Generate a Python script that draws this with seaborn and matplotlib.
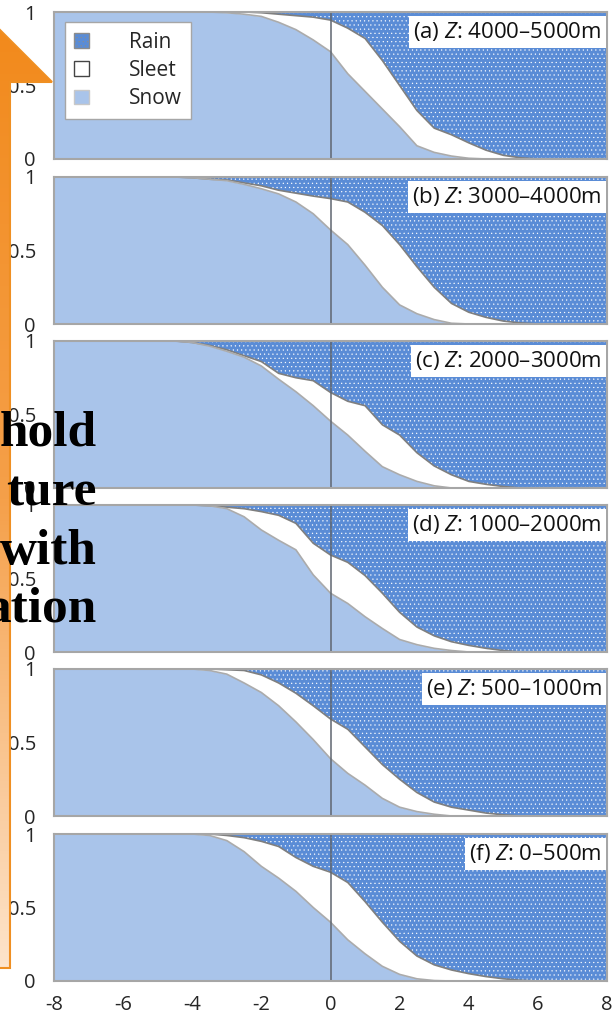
import numpy as np
import matplotlib
matplotlib.use("Agg")
import matplotlib.pyplot as plt
import seaborn as sns
from matplotlib.patches import Patch, Polygon

# air temperature bins (deg C)
temps = [-8, -7.5, -7, -6.5, -6, -5.5, -5, -4.5, -4, -3.5, -3,
         -2.5, -2, -1.5, -1, -0.5, 0, 0.5, 1, 1.5, 2, 2.5,
         3, 3.5, 4, 4.5, 5, 5.5, 6, 6.5, 7, 7.5, 8]

# snow fraction and snow+sleet fraction for each elevation band
snow_a = [1, 1, 1, 1, 1, 1, 1, 1, 1, 1, 0.995,
          0.985, 0.97, 0.93, 0.88, 0.81, 0.73, 0.58, 0.46, 0.34, 0.22, 0.09,
          0.045, 0.02, 0.005, 0, 0, 0, 0, 0, 0, 0, 0]
upper_a = [1, 1, 1, 1, 1, 1, 1, 1, 1, 1, 1,
           1, 0.995, 0.985, 0.975, 0.965, 0.945, 0.89, 0.82, 0.67, 0.50, 0.33,
           0.21, 0.165, 0.11, 0.06, 0.025, 0.008, 0, 0, 0, 0, 0]

snow_b = [1, 1, 1, 1, 1, 1, 1, 1, 0.995, 0.985, 0.975,
          0.95, 0.92, 0.885, 0.83, 0.75, 0.64, 0.54, 0.40, 0.25, 0.13, 0.07,
          0.03, 0.005, 0, 0, 0, 0, 0, 0, 0, 0, 0]
upper_b = [1, 1, 1, 1, 1, 1, 1, 1, 0.995, 0.985, 0.98,
           0.96, 0.94, 0.91, 0.89, 0.87, 0.853, 0.83, 0.76, 0.67, 0.54, 0.39,
           0.25, 0.14, 0.08, 0.045, 0.02, 0.007, 0, 0, 0, 0, 0]

snow_c = [1, 1, 1, 1, 1, 1, 1, 1, 0.99, 0.965, 0.93,
          0.89, 0.83, 0.74, 0.655, 0.56, 0.455, 0.36, 0.25, 0.145, 0.09, 0.045,
          0.015, 0, 0, 0, 0, 0, 0, 0, 0, 0, 0]
upper_c = [1, 1, 1, 1, 1, 1, 1, 1, 0.99, 0.97, 0.94,
           0.90, 0.86, 0.78, 0.75, 0.73, 0.65, 0.59, 0.56, 0.43, 0.36, 0.24,
           0.15, 0.09, 0.045, 0.025, 0.01, 0, 0, 0, 0, 0, 0]

snow_d = [1, 1, 1, 1, 1, 1, 1, 1, 1, 0.995, 0.975,
          0.92, 0.83, 0.76, 0.695, 0.525, 0.40, 0.33, 0.24, 0.16, 0.085, 0.05,
          0.025, 0.01, 0, 0, 0, 0, 0, 0, 0, 0, 0]
upper_d = [1, 1, 1, 1, 1, 1, 1, 1, 1, 0.995, 0.985,
           0.975, 0.955, 0.93, 0.875, 0.74, 0.66, 0.61, 0.52, 0.40, 0.27, 0.17,
           0.11, 0.07, 0.045, 0.025, 0.01, 0, 0, 0, 0, 0, 0]

snow_e = [1, 1, 1, 1, 1, 1, 1, 1, 1, 0.99, 0.965,
          0.905, 0.84, 0.75, 0.64, 0.52, 0.39, 0.29, 0.21, 0.12, 0.06, 0.03,
          0.012, 0, 0, 0, 0, 0, 0, 0, 0, 0, 0]
upper_e = [1, 1, 1, 1, 1, 1, 1, 1, 1, 1, 0.995,
           0.99, 0.96, 0.905, 0.835, 0.75, 0.66, 0.59, 0.47, 0.35, 0.25, 0.16,
           0.095, 0.06, 0.04, 0.02, 0.008, 0, 0, 0, 0, 0, 0]

snow_f = [1, 1, 1, 1, 1, 1, 1, 1, 1, 0.99, 0.955,
          0.88, 0.78, 0.70, 0.61, 0.50, 0.40, 0.28, 0.185, 0.10, 0.045, 0.015,
          0.003, 0, 0, 0, 0, 0, 0, 0, 0, 0, 0]
upper_f = [1, 1, 1, 1, 1, 1, 1, 1, 1, 1, 0.99,
           0.975, 0.95, 0.915, 0.84, 0.78, 0.74, 0.67, 0.54, 0.40, 0.27, 0.17,
           0.11, 0.075, 0.05, 0.03, 0.015, 0.005, 0, 0, 0, 0, 0]

panel_labels = ["(a) $Z$: 4000–5000m", "(b) $Z$: 3000–4000m", "(c) $Z$: 2000–3000m",
                "(d) $Z$: 1000–2000m", "(e) $Z$: 500–1000m", "(f) $Z$: 0–500m"]
snows = [snow_a, snow_b, snow_c, snow_d, snow_e, snow_f]
uppers = [upper_a, upper_b, upper_c, upper_d, upper_e, upper_f]

x_ticks = [-8, -6, -4, -2, 0, 2, 4, 6, 8]
overlay_words = ["hold", "ture", "with", "ation"]

RAIN = "#5A8CD6"
SNOW = "#A9C4EA"

sns.set_theme(style="white")
plt.rcParams["font.family"] = ["Open Sans", "DejaVu Sans"]
plt.rcParams["mathtext.fontset"] = "custom"
plt.rcParams["mathtext.it"] = "Open Sans:italic"
plt.rcParams["mathtext.rm"] = "Open Sans"
plt.rcParams["hatch.color"] = "#bcd0f0"
plt.rcParams["hatch.linewidth"] = 0.35

W, H = 614, 1018
fig = plt.figure(figsize=(W / 100, H / 100), dpi=100)

# panel pixel extents (top, height)
tops = [12, 177, 341, 505, 669, 834]
ph = 147
left, right = 54, 607

x = np.array(temps)
for i, (snow, upper, lab) in enumerate(zip(snows, uppers, panel_labels)):
    ax = fig.add_axes([left / W, 1 - (tops[i] + ph) / H, (right - left) / W, ph / H])
    snow = np.array(snow)
    upper = np.array(upper)
    ax.fill_between(x, upper, 1, facecolor=RAIN, hatch="....", linewidth=0)
    ax.fill_between(x, snow, upper, facecolor="white", linewidth=0)
    ax.fill_between(x, 0, snow, facecolor=SNOW, linewidth=0)
    sns.lineplot(x=x, y=upper, ax=ax, color="#7f7f7f", lw=1.2)
    sns.lineplot(x=x, y=snow, ax=ax, color="#ababab", lw=1.2)
    ax.axvline(0, color="#5f6670", lw=1.1)
    ax.set_xlim(-8, 8)
    ax.set_ylim(0, 1)
    ax.set_yticks([0, 0.5, 1])
    ax.set_yticklabels(["0", "0.5", "1"])
    ax.tick_params(axis="y", length=0, pad=13, labelsize=14.5)
    for s in ax.spines.values():
        s.set_color("#a6a6a6")
        s.set_linewidth(1.5)
    ax.set_xticks(x_ticks)
    if i < 5:
        ax.set_xticklabels([])
        ax.tick_params(axis="x", length=0)
    else:
        ax.set_xticklabels([str(t) for t in x_ticks])
        ax.tick_params(axis="x", length=0, pad=10, labelsize=14.5)
    ax.set_xlabel("")
    ax.set_ylabel("")
    ax.text(0.99, 0.865, lab, transform=ax.transAxes, ha="right", va="center",
            fontsize=16, color="#111111",
            bbox=dict(facecolor="white", edgecolor="none", pad=3))
    if i == 0:
        handles = [Patch(facecolor=RAIN, edgecolor="#8c8c8c", hatch="....", label="Rain"),
                   Patch(facecolor="white", edgecolor="#444444", label="Sleet"),
                   Patch(facecolor=SNOW, edgecolor="#c8c8c8", label="Snow")]
        ax.legend(handles=handles, loc="upper left", bbox_to_anchor=(0.02, 0.93),
                  borderaxespad=0, fancybox=False, framealpha=1, edgecolor="#a6a6a6",
                  fontsize=15, handlelength=0.7, handleheight=0.7,
                  handletextpad=1.9, labelspacing=0.35, borderpad=0.45)

# slide overlay: orange arrow and bold caption fragments
ov = fig.add_axes([0, 0, 1, 1], zorder=10)
ov.axis("off")
ov.patch.set_alpha(0)
arrow = Polygon([(-12, 968), (10, 968), (10, 82), (52, 82), (0, 30),
                 (-52, 82), (-12, 82)], closed=True, facecolor="none",
                edgecolor="#ef8f22", lw=1.5)
ov.add_patch(arrow)
grad = np.linspace(0, 1, 256).reshape(-1, 1)
cmap = matplotlib.colors.LinearSegmentedColormap.from_list(
    "arr", ["#f28a1c", "#f5a04a", "#fde4cc"])
im = ov.imshow(grad, cmap=cmap, extent=[-60, 60, 968, 30], aspect="auto")
im.set_clip_path(arrow)
ov.set_xlim(0, W)
ov.set_ylim(H, 0)

baselines = [446, 505, 564, 622]
for word, yb in zip(overlay_words, baselines):
    ov.text(97, yb, word, ha="right", va="baseline", fontsize=37,
            fontweight="bold", family="Liberation Serif", color="black")

fig.savefig("out.png", dpi=100)
